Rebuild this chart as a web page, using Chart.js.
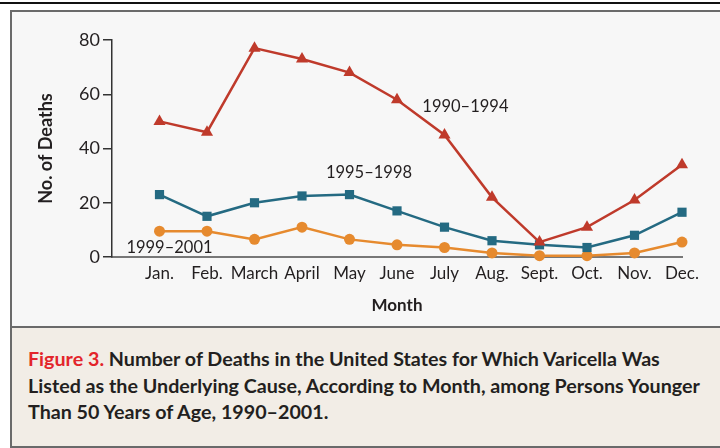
<!DOCTYPE html>
<html>
<head>
<meta charset="utf-8">
<script src="https://cdn.jsdelivr.net/npm/chart.js@4"></script>
<style>
  html, body { margin: 0; padding: 0; }
  body { width: 720px; height: 448px; background: #fff; position: relative; overflow: hidden; font-family: Lato, sans-serif; }
  #rule { position: absolute; left: 0; top: 2px; width: 720px; height: 2px; background: #111; }
  #frame { position: absolute; left: 10px; top: 10px; width: 708px; height: 434px; border: 2px solid #6a6a6a; border-right: none; background: #f7f7f7; }
  #chartBox { position: absolute; left: 0; top: 0; width: 706px; height: 314px; }
  #caption { position: absolute; left: 0; top: 314px; width: 708px; height: 120px; background: #f2ede6; border-top: 2px solid #6a6a6a; box-sizing: border-box; }
  #caption div { position: absolute; left: 16px; white-space: nowrap; font-weight: 700; font-size: 19.7px; color: #231f20; }
  #caption .fig { color: #e3252b; }
</style>
</head>
<body>
<div id="rule"></div>
<div id="frame">
  <div id="chartBox"><canvas id="chart" width="706" height="314"></canvas></div>
  <div id="caption">
    <div style="top:19px"><span class="fig">Figure 3.</span> Number of Deaths in the United States for Which Varicella Was</div>
    <div style="top:46px">Listed as the Underlying Cause, According to Month, among Persons Younger</div>
    <div style="top:72px">Than 50 Years of Age, 1990–2001.</div>
  </div>
</div>
<script>
// months on the x axis
const months = ['Jan.', 'Feb.', 'March', 'April', 'May', 'June', 'July', 'Aug.', 'Sept.', 'Oct.', 'Nov.', 'Dec.'];

// deaths per month
const deaths1990 = [50, 46, 77, 73, 68, 58, 45, 22, 5.5, 11, 21, 34];
const deaths1995 = [23, 15, 20, 22.5, 23, 17, 11, 6, 4.5, 3.5, 8, 16.5];
const deaths1999 = [9.5, 9.5, 6.5, 11, 6.5, 4.5, 3.5, 1.5, 0.5, 0.5, 1.5, 5.5];

const yTicks = [0, 20, 40, 60, 80];

// series labels written inside the plot (x = month index, y = deaths)
const notes = [
    { text: '1990–1994', x: 7.44, y: 55.4 },
    { text: '1995–1998', x: 5.41, y: 31 },
    { text: '1999–2001', x: 1.21, y: 3.6 }
];

const toPoints = vals => vals.map((v, i) => ({ x: i + 1, y: v }));

const noteLabels = {
    id: 'noteLabels',
    afterDatasetsDraw(chart) {
        const { ctx, scales: { x, y } } = chart;
        ctx.save();
        ctx.font = '16.5px Lato, sans-serif';
        ctx.fillStyle = '#231f20';
        ctx.textAlign = 'center';
        ctx.textBaseline = 'middle';
        notes.forEach(n => ctx.fillText(n.text, x.getPixelForValue(n.x), y.getPixelForValue(n.y)));
        ctx.restore();
    }
};

const ctx = document.getElementById('chart').getContext('2d');
const chart = new Chart(ctx, {
    type: 'line',
    data: {
        datasets: [
            {
                label: '1990–1994',
                data: toPoints(deaths1990),
                borderColor: '#bf3a2b',
                backgroundColor: '#bf3a2b',
                pointStyle: 'triangle',
                pointRadius: 7
            },
            {
                label: '1995–1998',
                data: toPoints(deaths1995),
                borderColor: '#246a82',
                backgroundColor: '#246a82',
                pointStyle: 'rect',
                pointRadius: 6.5
            },
            {
                label: '1999–2001',
                data: toPoints(deaths1999),
                borderColor: '#e68a2e',
                backgroundColor: '#e68a2e',
                pointStyle: 'circle',
                pointRadius: 5.5
            }
        ]
    },
    options: {
        responsive: false,
        animation: false,
        layout: { padding: { left: 0, top: 28, right: 36, bottom: 0 } },
        elements: {
            line: { borderWidth: 2.5, tension: 0 },
            point: { borderWidth: 0, hoverRadius: 6 }
        },
        datasets: { line: { clip: false } },
        plugins: {
            legend: { display: false },
            tooltip: { enabled: false }
        },
        scales: {
            x: {
                type: 'linear',
                min: 0,
                max: 12,
                afterFit: s => { s.height = 69; },
                afterBuildTicks: s => { s.ticks = months.map((m, i) => ({ value: i + 1 })); },
                grid: { display: false },
                border: { color: '#777', width: 2 },
                ticks: {
                    autoSkip: false,
                    maxRotation: 0,
                    padding: -2,
                    color: '#231f20',
                    font: { family: 'Lato', size: 17 },
                    callback: v => months[v - 1] || ''
                },
                title: {
                    display: true,
                    text: 'Month',
                    color: '#231f20',
                    font: { family: 'Lato', size: 17, weight: 'bold' },
                    padding: { bottom: 10 }
                }
            },
            y: {
                min: 0,
                max: 80,
                afterFit: s => { s.width = 100; },
                afterBuildTicks: s => { s.ticks = yTicks.map(v => ({ value: v })); },
                grid: { drawOnChartArea: false, drawTicks: true, tickLength: 9, color: '#333', lineWidth: 1.5 },
                border: { color: '#333', width: 1.5 },
                ticks: {
                    padding: 3,
                    color: '#231f20',
                    font: { family: 'Lato', size: 18 }
                },
                title: {
                    display: true,
                    text: 'No. of Deaths',
                    color: '#231f20',
                    font: { family: 'Lato', size: 18, weight: 'bold' },
                    padding: { top: 23 }
                }
            }
        }
    },
    plugins: [noteLabels]
});
</script>
</body>
</html>
